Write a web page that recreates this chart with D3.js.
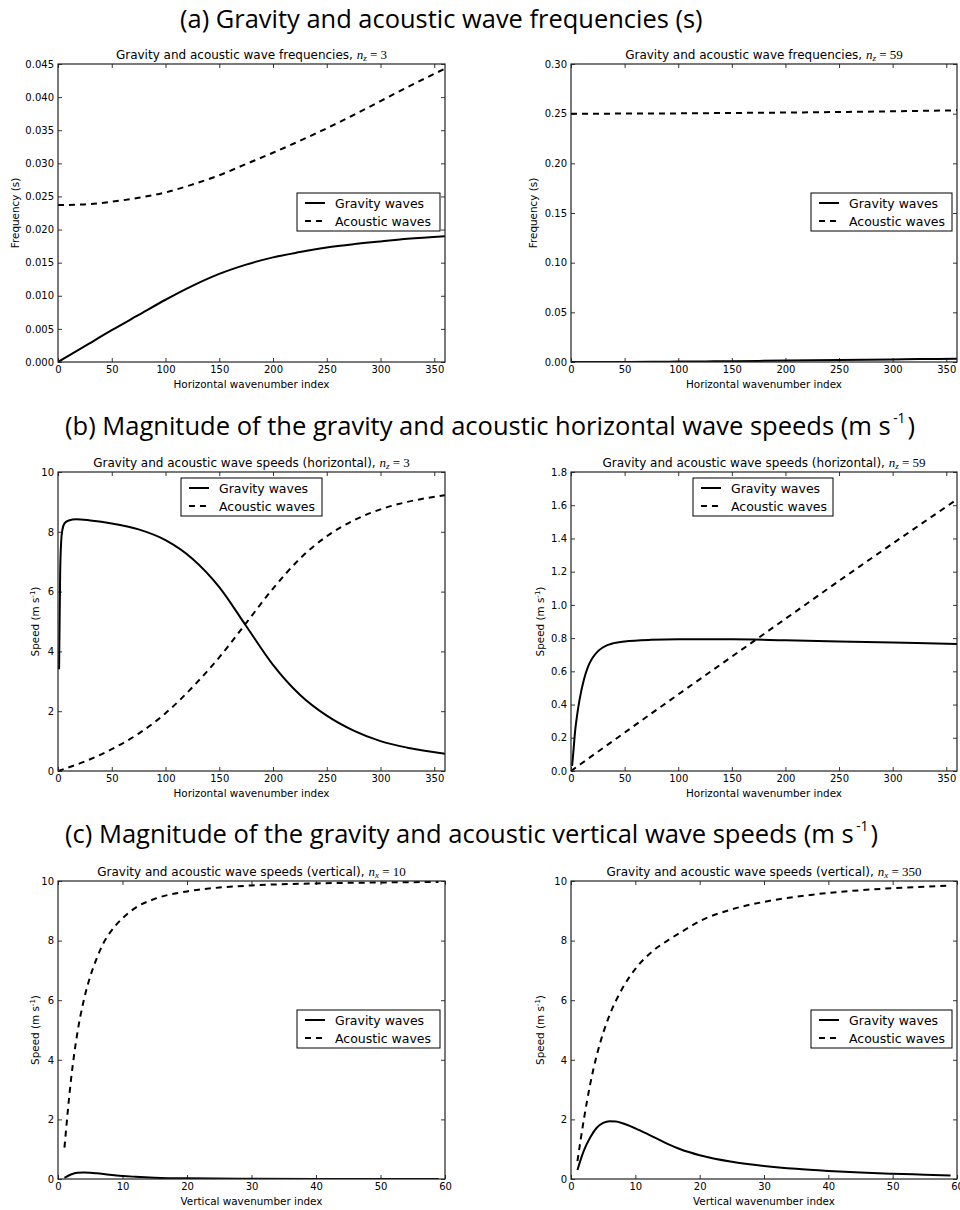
<!DOCTYPE html>
<html><head><meta charset="utf-8">
<script src="https://cdn.jsdelivr.net/npm/d3@7"></script>
<style>body{margin:0;background:#fff}</style>
</head><body><svg id="c" width="960" height="1210"></svg>
<script>
// ---------------- DATA ----------------
// (a) frequencies vs horizontal wavenumber index
const hIdxA = [0, 25, 50, 75, 100, 125, 150, 175, 200, 225, 250, 275, 300, 325, 360];
const gravFreqNz3 = [0, 0.0024, 0.0048, 0.0071, 0.0094, 0.0115, 0.0133, 0.0147, 0.0158, 0.0166, 0.0173, 0.0178, 0.0182, 0.0186, 0.0190];
const acouFreqNz3 = [0.0237, 0.0238, 0.0242, 0.0248, 0.0256, 0.0268, 0.0282, 0.0299, 0.0316, 0.0334, 0.0353, 0.0373, 0.0394, 0.0415, 0.0443];
const gravFreqNz59 = [0, 0.00002, 0.0001, 0.0002, 0.0004, 0.0006, 0.0008, 0.0011, 0.0014, 0.0017, 0.0020, 0.0023, 0.0026, 0.0029, 0.0033];
const acouFreqNz59 = [0.2500, 0.2500, 0.2501, 0.2502, 0.2503, 0.2505, 0.2507, 0.2509, 0.2511, 0.2514, 0.2517, 0.2520, 0.2524, 0.2528, 0.2534];

// (b) horizontal speeds
const hIdxGravB1 = [1, 2, 3, 4, 6, 10, 17, 30, 50, 75, 100, 125, 150, 175, 200, 225, 250, 275, 300, 325, 360];
const gravSpeedNz3 = [3.4, 6.6, 7.7, 8.05, 8.28, 8.38, 8.42, 8.38, 8.28, 8.08, 7.72, 7.1, 6.15, 4.85, 3.55, 2.55, 1.85, 1.35, 1.0, 0.78, 0.58];
const hIdxAcouB1 = [0, 25, 50, 75, 100, 125, 150, 174, 200, 225, 250, 275, 300, 325, 360];
const acouSpeedNz3 = [0, 0.32, 0.73, 1.25, 1.93, 2.8, 3.8, 4.9, 6.1, 7.1, 7.85, 8.38, 8.75, 9.0, 9.22];
const hIdxGravB2 = [1, 2, 4, 6, 8, 12, 16, 20, 25, 30, 40, 50, 75, 100, 150, 200, 250, 300, 360];
const gravSpeedNz59 = [0.03, 0.1, 0.25, 0.35, 0.43, 0.55, 0.63, 0.68, 0.72, 0.745, 0.77, 0.78, 0.79, 0.793, 0.793, 0.787, 0.78, 0.773, 0.765];
const hIdxAcouB2 = [0, 90, 180, 270, 360];
const acouSpeedNz59 = [0, 0.415, 0.825, 1.235, 1.635];

// (c) vertical speeds vs vertical wavenumber index
const vIdxAcouC1 = [1, 2, 3, 4, 5, 6, 7, 8, 10, 12, 15, 20, 25, 30, 40, 50, 59];
const acouSpeedNx10 = [1.05, 3.3, 4.9, 6.0, 6.8, 7.4, 7.9, 8.25, 8.75, 9.1, 9.4, 9.65, 9.78, 9.85, 9.92, 9.95, 9.97];
const vIdxGravC1 = [1, 2, 3, 4, 5, 6, 8, 10, 12, 15, 20, 30, 40, 59];
const gravSpeedNx10 = [0.04, 0.15, 0.21, 0.22, 0.21, 0.19, 0.14, 0.1, 0.075, 0.045, 0.022, 0.008, 0.003, 0.001];
const vIdxGravC2 = [1, 2, 3, 4, 5, 6, 7, 8, 10, 12, 15, 17, 20, 25, 30, 35, 40, 45, 50, 55, 59];
const gravSpeedNx350 = [0.3, 0.95, 1.4, 1.72, 1.88, 1.94, 1.93, 1.87, 1.7, 1.5, 1.18, 1.0, 0.8, 0.58, 0.44, 0.34, 0.27, 0.215, 0.175, 0.145, 0.12];
const vIdxAcouC2 = [1, 2, 3, 4, 5, 6, 8, 10, 13, 15, 18, 20, 25, 30, 35, 40, 45, 50, 55, 59];
const acouSpeedNx350 = [0.6, 2.0, 3.2, 4.15, 4.9, 5.5, 6.4, 7.05, 7.7, 8.0, 8.4, 8.65, 9.05, 9.3, 9.47, 9.6, 9.69, 9.76, 9.81, 9.85];

// tick values
const hTicks = [0, 50, 100, 150, 200, 250, 300, 350];
const vTicks = [0, 10, 20, 30, 40, 50, 60];
const freqTicksNz3 = [0, 0.005, 0.010, 0.015, 0.020, 0.025, 0.030, 0.035, 0.040, 0.045];
const freqTicksNz59 = [0, 0.05, 0.10, 0.15, 0.20, 0.25, 0.30];
const speedTicks10 = [0, 2, 4, 6, 8, 10];
const speedTicks18 = [0, 0.2, 0.4, 0.6, 0.8, 1.0, 1.2, 1.4, 1.6, 1.8];

const legendLabels = ["Gravity waves", "Acoustic waves"];

// ---------------- DRAW ----------------
const svg = d3.select("#c");
const SANS = "'DejaVu Sans', 'Bitstream Vera Sans', sans-serif";
const SERIF = "'Liberation Serif', 'DejaVu Serif', serif";
const HEAD = "'Open Sans', 'Noto Sans', sans-serif";
const DASH = "6,5";

// heading drawn at natural size in a group, then squeezed horizontally to the target width
function heading(txt, sup, x, y, totalW) {
  const g = svg.append("g");
  const main = g.append("text").attr("x", 0).attr("y", 0)
    .attr("font-family", HEAD).attr("font-size", 26).attr("fill", "#000").text(txt);
  let w = main.node().getComputedTextLength();
  if (sup) {
    const s = g.append("text").attr("x", w + 2).attr("y", -12)
      .attr("font-family", HEAD).attr("font-size", 14).attr("fill", "#000").text(sup);
    w += 2 + s.node().getComputedTextLength() + 2;
    const c = g.append("text").attr("x", w).attr("y", 0)
      .attr("font-family", HEAD).attr("font-size", 26).attr("fill", "#000").text(")");
    w += c.node().getComputedTextLength();
  }
  g.attr("transform", `translate(${x},${y}) scale(${totalW / w},1)`);
}
heading("(a) Gravity and acoustic wave frequencies (s)", null, 180, 28, 523);
heading("(b) Magnitude of the gravity and acoustic horizontal wave speeds (m s", "-1", 65, 435, 850);
heading("(c) Magnitude of the gravity and acoustic vertical wave speeds (m s", "-1", 65, 843, 813);

let clipN = 0;
function panel(p) {
  const x = d3.scaleLinear().domain(p.xDomain).range([p.left, p.right]);
  const y = d3.scaleLinear().domain(p.yDomain).range([p.bottom, p.top]);
  const g = svg.append("g");
  const id = "clip" + (clipN++);
  svg.append("clipPath").attr("id", id).append("rect")
    .attr("x", p.left).attr("y", p.top).attr("width", p.right - p.left).attr("height", p.bottom - p.top);

  const lg = g.append("g").attr("clip-path", `url(#${id})`);
  p.series.forEach(s => {
    const pts = s.xs.map((v, i) => [v, s.ys[i]]);
    lg.append("path").datum(pts)
      .attr("d", d3.line().x(d => x(d[0])).y(d => y(d[1])).curve(d3.curveMonotoneX))
      .attr("fill", "none").attr("stroke", "#000").attr("stroke-width", 2)
      .attr("stroke-dasharray", s.dash ? DASH : null);
  });

  // axes (inside ticks on all four sides)
  const styleAxis = (sel) => {
    sel.select(".domain").remove();
    sel.selectAll(".tick line").attr("stroke", "#000").attr("stroke-width", 0.8);
    sel.selectAll("text").attr("font-family", SANS).attr("font-size", 10).attr("fill", "#000");
  };
  g.append("g").attr("transform", `translate(0,${p.bottom})`)
    .call(d3.axisBottom(x).tickValues(p.xTicks).tickSize(-4).tickPadding(4).tickFormat(d3.format("d"))).call(styleAxis);
  g.append("g").attr("transform", `translate(0,${p.top})`)
    .call(d3.axisTop(x).tickValues(p.xTicks).tickSize(-4).tickFormat("")).call(styleAxis);
  g.append("g").attr("transform", `translate(${p.left},0)`)
    .call(d3.axisLeft(y).tickValues(p.yTicks).tickSize(-4).tickPadding(4).tickFormat(d3.format(p.yFmt))).call(styleAxis);
  g.append("g").attr("transform", `translate(${p.right},0)`)
    .call(d3.axisRight(y).tickValues(p.yTicks).tickSize(-4).tickFormat("")).call(styleAxis);

  g.append("rect").attr("x", p.left).attr("y", p.top)
    .attr("width", p.right - p.left).attr("height", p.bottom - p.top)
    .attr("fill", "none").attr("stroke", "#222").attr("stroke-width", 1.2);

  // title
  const cx = (p.left + p.right) / 2;
  const t = g.append("text").attr("x", cx).attr("y", p.top - 5).attr("text-anchor", "middle")
    .attr("font-family", SANS).attr("font-size", 12).attr("fill", "#000");
  t.append("tspan").text(p.title + ", ");
  t.append("tspan").attr("font-family", SERIF).attr("font-style", "italic").attr("font-size", 13).text("n");
  t.append("tspan").attr("font-family", SERIF).attr("font-style", "italic").attr("font-size", 9).attr("dy", 2).text(p.sub);
  t.append("tspan").attr("font-family", SERIF).attr("font-size", 13).attr("dy", -2).text(" = " + p.val);

  // x label
  g.append("text").attr("x", cx).attr("y", p.bottom + 26).attr("text-anchor", "middle")
    .attr("font-family", SANS).attr("font-size", 10.4).attr("fill", "#000").text(p.xLabel);
  // y label
  const yl = g.append("text").attr("transform", `translate(${p.yLabelX},${(p.top + p.bottom) / 2}) rotate(-90)`)
    .attr("text-anchor", "middle").attr("font-family", SANS).attr("font-size", 10.4).attr("fill", "#000");
  if (p.yLabelSup) {
    yl.append("tspan").text(p.yLabel);
    yl.append("tspan").attr("font-size", 7).attr("dy", -4).text(p.yLabelSup);
    yl.append("tspan").attr("dy", 4).text(")");
  } else yl.text(p.yLabel);

  // legend
  const L = p.legend;
  const lgd = g.append("g");
  lgd.append("rect").attr("x", L.x).attr("y", L.y).attr("width", L.w).attr("height", 38)
    .attr("fill", "#fff").attr("stroke", "#000").attr("stroke-width", 1);
  legendLabels.forEach((lab, i) => {
    const yy = L.y + 10 + i * 18;
    lgd.append("line").attr("x1", L.x + 8).attr("x2", L.x + 28).attr("y1", yy).attr("y2", yy)
      .attr("stroke", "#000").attr("stroke-width", 2).attr("stroke-dasharray", i === 1 ? DASH : null);
    lgd.append("text").attr("x", L.x + 38).attr("y", yy + 4.5)
      .attr("font-family", SANS).attr("font-size", 12.5).attr("fill", "#000").text(lab);
  });
}

const rowA = { top: 64, bottom: 362 }, rowB = { top: 472, bottom: 771 }, rowC = { top: 881, bottom: 1179 };
const colL = { left: 58, right: 445 }, colR = { left: 571, right: 957 };

panel({ ...rowA, ...colL, xDomain: [0, 360], yDomain: [0, 0.045], xTicks: hTicks, yTicks: freqTicksNz3, yFmt: ".3f",
  title: "Gravity and acoustic wave frequencies", sub: "z", val: "3",
  xLabel: "Horizontal wavenumber index", yLabel: "Frequency (s)", yLabelX: 19,
  series: [{ xs: hIdxA, ys: gravFreqNz3 }, { xs: hIdxA, ys: acouFreqNz3, dash: true }],
  legend: { x: 297, y: 193, w: 143 } });
panel({ ...rowA, ...colR, xDomain: [0, 360], yDomain: [0, 0.30], xTicks: hTicks, yTicks: freqTicksNz59, yFmt: ".2f",
  title: "Gravity and acoustic wave frequencies", sub: "z", val: "59",
  xLabel: "Horizontal wavenumber index", yLabel: "Frequency (s)", yLabelX: 537,
  series: [{ xs: hIdxA, ys: gravFreqNz59 }, { xs: hIdxA, ys: acouFreqNz59, dash: true }],
  legend: { x: 811, y: 193, w: 141 } });
panel({ ...rowB, ...colL, xDomain: [0, 360], yDomain: [0, 10], xTicks: hTicks, yTicks: speedTicks10, yFmt: "d",
  title: "Gravity and acoustic wave speeds (horizontal)", sub: "z", val: "3",
  xLabel: "Horizontal wavenumber index", yLabel: "Speed (m s", yLabelSup: "-1", yLabelX: 39,
  series: [{ xs: hIdxGravB1, ys: gravSpeedNz3 }, { xs: hIdxAcouB1, ys: acouSpeedNz3, dash: true }],
  legend: { x: 181, y: 478, w: 141 } });
panel({ ...rowB, ...colR, xDomain: [0, 360], yDomain: [0, 1.8], xTicks: hTicks, yTicks: speedTicks18, yFmt: ".1f",
  title: "Gravity and acoustic wave speeds (horizontal)", sub: "z", val: "59",
  xLabel: "Horizontal wavenumber index", yLabel: "Speed (m s", yLabelSup: "-1", yLabelX: 544,
  series: [{ xs: hIdxGravB2, ys: gravSpeedNz59 }, { xs: hIdxAcouB2, ys: acouSpeedNz59, dash: true }],
  legend: { x: 693, y: 478, w: 140 } });
panel({ ...rowC, ...colL, xDomain: [0, 60], yDomain: [0, 10], xTicks: vTicks, yTicks: speedTicks10, yFmt: "d",
  title: "Gravity and acoustic wave speeds (vertical)", sub: "x", val: "10",
  xLabel: "Vertical wavenumber index", yLabel: "Speed (m s", yLabelSup: "-1", yLabelX: 39,
  series: [{ xs: vIdxGravC1, ys: gravSpeedNx10 }, { xs: vIdxAcouC1, ys: acouSpeedNx10, dash: true }],
  legend: { x: 297, y: 1010, w: 143 } });
panel({ ...rowC, ...colR, xDomain: [0, 60], yDomain: [0, 10], xTicks: vTicks, yTicks: speedTicks10, yFmt: "d",
  title: "Gravity and acoustic wave speeds (vertical)", sub: "x", val: "350",
  xLabel: "Vertical wavenumber index", yLabel: "Speed (m s", yLabelSup: "-1", yLabelX: 544,
  series: [{ xs: vIdxGravC2, ys: gravSpeedNx350 }, { xs: vIdxAcouC2, ys: acouSpeedNx350, dash: true }],
  legend: { x: 811, y: 1010, w: 141 } });
</script></body></html>
